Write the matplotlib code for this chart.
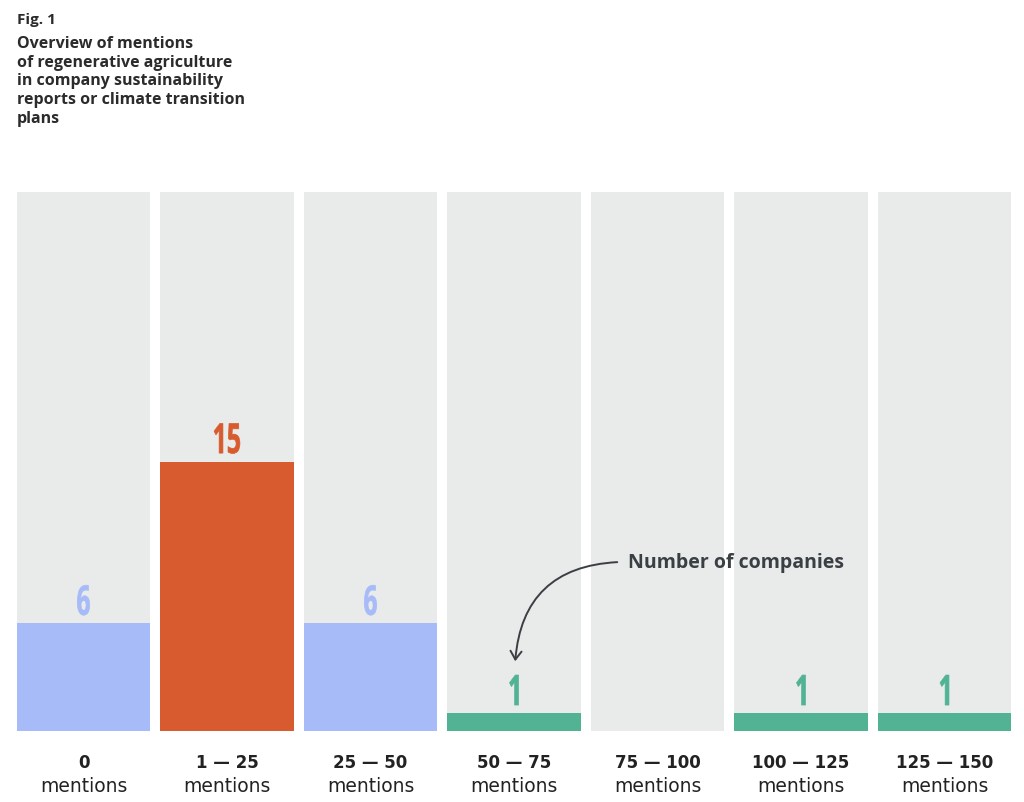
import matplotlib.pyplot as plt
import matplotlib.patches as mpatches
from matplotlib.textpath import TextPath
from matplotlib.font_manager import FontProperties
from matplotlib.transforms import Affine2D

# data
categories = ['0', '1 — 25', '25 — 50', '50 — 75', '75 — 100', '100 — 125', '125 — 150']
companies = [6, 15, 6, 1, 0, 1, 1]
max_val = 30

grey = '#E9EAEA'
def bar_color(v):
    if v >= 10:
        return '#D75B2E'
    if v >= 5:
        return '#A7BBF8'
    return '#52B394'

W, H = 1024, 803
fig = plt.figure(figsize=(W / 100, H / 100), dpi=100)
fig.patch.set_facecolor('white')

bw = 0.927
ax = fig.add_axes([17 / W, (H - 732) / H, (1011 - 17) / W, (732 - 193) / H])
ax.set_xlim(-bw / 2, len(categories) - 1 + bw / 2)
ax.set_ylim(0, max_val)
ax.axis('off')

x = list(range(len(categories)))
ax.bar(x, [max_val] * len(x), width=bw, color=grey, linewidth=0)
ax.bar(x, companies, width=bw, color=[bar_color(v) for v in companies], linewidth=0)

# condensed value labels: squeeze a text path horizontally
num_prop = FontProperties(family='Open Sans', weight='bold')
for xi, v in zip(x, companies):
    if v == 0:
        continue
    tp = TextPath((0, 0), str(v), size=42, prop=num_prop)
    ext = tp.get_extents()
    px, py = ax.transData.transform((xi, v))
    tr = (Affine2D().translate(-(ext.x0 + ext.x1) / 2, -ext.y0)
          .scale(30 / ext.height * 0.6, 30 / ext.height).translate(px, py + 8))
    fig.patches.append(mpatches.PathPatch(tp, transform=tr, color=bar_color(v), lw=0.5,
                                          ec=bar_color(v)))

lab_font = ['DejaVu Sans']
for xi, c in zip(x, categories):
    ax.annotate(c, (xi, 0), xytext=(0, -22), textcoords='offset points',
                ha='center', va='center', fontsize=12, fontweight='bold',
                color='#222222', family=lab_font)
    ax.annotate('mentions', (xi, 0), xytext=(0, -39), textcoords='offset points',
                ha='center', va='center', fontsize=13.5,
                color='#222222', family=lab_font)

# title
fig.text(17 / W, 1 - 20 / H, 'Fig. 1', ha='left', va='center', fontsize=11,
         fontweight='bold', color='#2b2b2b', family=['Open Sans', 'DejaVu Sans'])
fig.text(17 / W, 1 - 36 / H,
         'Overview of mentions\nof regenerative agriculture\nin company sustainability\nreports or climate transition\nplans',
         ha='left', va='top', fontsize=11.5, fontweight='bold', color='#2b2b2b',
         linespacing=1.22, family=['Open Sans', 'DejaVu Sans'])

# annotation
fig.text(628 / W, 1 - 563 / H, 'Number of companies', ha='left', va='center',
         fontsize=14, fontweight='bold', color='#3a3f44',
         family=['Open Sans', 'DejaVu Sans'])
arrow = mpatches.FancyArrowPatch((620 / W, 1 - 563 / H), (515 / W, 1 - 665 / H),
                                 transform=fig.transFigure,
                                 connectionstyle='arc3,rad=0.45',
                                 arrowstyle='->,head_length=6,head_width=4',
                                 color='#3a3f44', lw=1.4)
fig.patches.append(arrow)

fig.savefig('out.png', dpi=100)
